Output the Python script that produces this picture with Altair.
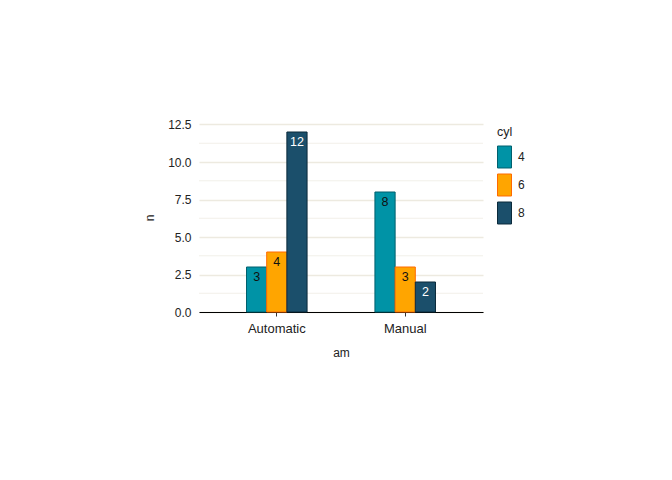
import altair as alt
import pandas as pd

# data
am = ["Automatic", "Automatic", "Automatic", "Manual", "Manual", "Manual"]
cyl = ["4", "6", "8", "4", "6", "8"]
n = [3, 4, 12, 8, 3, 2]
cyl_levels = ["4", "6", "8"]
y_ticks = [0, 2.5, 5, 7.5, 10, 12.5]
minor_ticks = [1.25, 3.75, 6.25, 8.75, 11.25]

fills = ["#0093A6", "#FFA500", "#1B4F6B"]
strokes = ["#00606E", "#FF6A00", "#0B2A3B"]
grid_color = "#EDEAE0"
text_color = "#222222"
font = "Liberation Sans"

df = pd.DataFrame({"am": am, "cyl": cyl, "n": n})
minor_df = pd.DataFrame({"v": minor_ticks})

y_scale = alt.Scale(domain=[0, 12.6], nice=False, zero=True)

legend_kw = dict(
    title="cyl",
    orient="none",
    legendX=298,
    legendY=3,
    symbolType="M-1,-1.571L1,-1.571L1,1.571L-1,1.571Z",
    symbolSize=196,
    symbolStrokeWidth=1,
    labelOffset=6,
    rowPadding=1,
    titlePadding=11,
    titleFontSize=12.5,
    titleFontWeight="normal",
    titleColor=text_color,
    labelFontSize=12,
    labelColor=text_color,
)

x_enc = alt.X(
    "am:N",
    title="am",
    scale=alt.Scale(paddingInner=0.5285, paddingOuter=0.37),
    axis=alt.Axis(
        labelAngle=0,
        domain=True,
        domainColor="#000000",
        domainWidth=1.1,
        ticks=True,
        tickColor="#333333",
        tickSize=4,
        grid=False,
        labelPadding=6,
        titlePadding=12,
        labelFontSize=13,
        labelColor=text_color,
        titleFontSize=12,
        titleFontWeight="normal",
        titleColor=text_color,
    ),
)
xo_enc = alt.XOffset("cyl:N", scale=alt.Scale(domain=cyl_levels, paddingInner=0, paddingOuter=0))

y_axis = alt.Axis(
    values=y_ticks,
    format=".1f",
    domain=False,
    ticks=False,
    labelPadding=8,
    grid=True,
    gridColor=grid_color,
    gridWidth=1.4,
    labelFontSize=12,
    labelColor=text_color,
    titlePadding=11,
    titleFontSize=12,
    titleFontWeight="normal",
    titleColor=text_color,
)

minor = alt.Chart(minor_df).mark_rule(color=grid_color, strokeWidth=0.7).encode(
    y=alt.Y("v:Q", scale=y_scale, title="n", axis=y_axis)
)

bars = alt.Chart(df).mark_bar(strokeWidth=1).encode(
    x=x_enc,
    xOffset=xo_enc,
    y=alt.Y("n:Q", scale=y_scale, title="n", axis=y_axis),
    color=alt.Color("cyl:N", scale=alt.Scale(domain=cyl_levels, range=fills), legend=alt.Legend(**legend_kw)),
    stroke=alt.Stroke("cyl:N", scale=alt.Scale(domain=cyl_levels, range=strokes), legend=alt.Legend(**legend_kw)),
)

labels = alt.Chart(df).mark_text(baseline="middle", dy=10, fontSize=12.5).encode(
    x=x_enc,
    xOffset=xo_enc,
    y=alt.Y("n:Q", scale=y_scale, title="n", axis=y_axis),
    text=alt.Text("n:Q"),
    color=alt.condition(alt.datum.cyl == "8", alt.value("#FFFFFF"), alt.value("#111111")),
)

chart = (
    alt.layer(minor, bars, labels)
    .properties(
        width=284,
        height=189,
        padding={"left": 191, "top": 115, "right": 181, "bottom": 160},
        autosize=alt.AutoSizeParams(type="none"),
        background="#FFFFFF",
    )
    .configure(font=font)
    .configure_view(strokeWidth=0, stroke="transparent")
)

chart.save("out.html", embed_options={"renderer": "svg", "actions": False})
